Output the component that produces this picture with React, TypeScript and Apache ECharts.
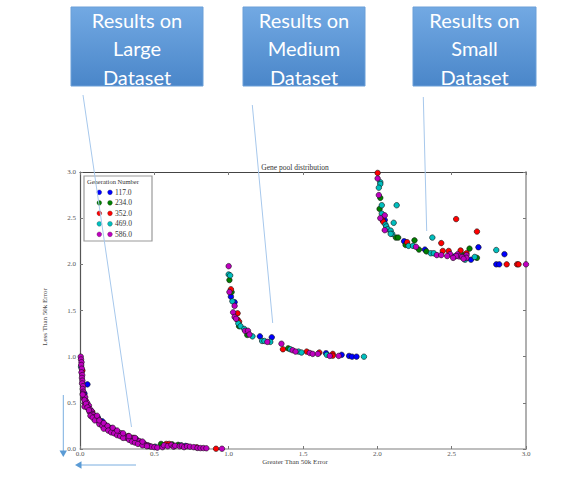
import React, { useEffect, useRef } from "react";
import * as echarts from "echarts";

// Generation labels and their marker colours (blue, green, red, cyan, magenta)
const generations = ["117.0", "234.0", "352.0", "469.0", "586.0"];
const genColors = ["#0000ff", "#007f00", "#ff0000", "#00bfbf", "#bf00bf"];

// [greater-than-50k error, less-than-50k error] per generation
const gen117: number[][] = [
  [0.05, 0.7], [0.03, 0.6], [0.12, 0.34], [0.15, 0.3], [0.21, 0.225], [0.235, 0.2], [0.375, 0.11], [0.71, 0.033],
  [1.015, 1.65], [1.04, 1.59], [1.21, 1.22], [1.29, 1.21], [1.655, 1.037], [1.76, 1.02], [1.81, 1.008], [1.83, 1.0], [1.86, 1.0],
  [2.05, 2.48], [2.18, 2.25], [2.32, 2.16], [2.52, 2.085], [2.63, 2.05], [2.68, 2.185], [2.855, 2.11], [2.8, 2.0], [2.82, 2.0],
];
const gen234: number[][] = [
  [0.27, 0.16], [0.415, 0.07], [0.545, 0.055], [0.62, 0.05], [0.66, 0.045],
  [1.005, 1.83], [1.02, 1.7], [1.07, 1.33], [1.125, 1.235], [1.4, 1.09],
  [2.02, 2.72], [2.015, 2.6], [2.125, 2.29], [2.14, 2.29], [2.25, 2.26], [2.19, 2.21], [2.28, 2.16], [2.33, 2.14], [2.58, 2.1], [2.62, 2.17], [2.67, 2.07],
];
const gen352: number[][] = [
  [0.016, 0.85], [0.083, 0.4], [0.325, 0.14], [0.36, 0.12], [0.58, 0.055], [0.6, 0.055], [0.785, 0.018], [0.915, 0.003],
  [1.015, 1.73], [1.06, 1.47], [1.06, 1.4], [1.07, 1.38], [1.365, 1.08], [1.525, 1.055], [1.61, 1.045], [1.7, 1.03], [1.7, 1.01],
  [2.002, 2.99], [2.035, 2.48], [2.04, 2.46], [2.2, 2.24], [2.43, 2.23], [2.53, 2.49], [2.67, 2.355], [2.44, 2.145], [2.48, 2.145], [2.56, 2.15], [2.6, 2.12], [2.87, 2.0], [2.94, 2.0], [2.95, 2.0],
];
const gen469: number[][] = [
  [0.007, 0.89], [0.128, 0.315], [0.29, 0.155], [0.46, 0.035], [0.505, 0.025], [0.68, 0.04],
  [1.0, 1.89], [1.01, 1.88], [1.025, 1.6], [1.065, 1.36], [1.08, 1.33], [1.105, 1.3], [1.16, 1.22], [1.225, 1.17], [1.24, 1.17], [1.28, 1.16], [1.415, 1.08], [1.47, 1.055], [1.49, 1.045], [1.66, 1.02], [1.91, 1.0],
  [2.02, 2.89], [2.02, 2.87], [2.01, 2.83], [2.03, 2.64], [2.13, 2.64], [2.03, 2.55], [2.11, 2.45], [2.055, 2.43], [2.06, 2.41], [2.07, 2.38], [2.09, 2.365], [2.1, 2.33], [2.09, 2.33], [2.21, 2.2], [2.24, 2.2], [2.37, 2.29], [2.36, 2.12], [2.38, 2.12], [2.59, 2.05], [2.655, 2.08], [2.8, 2.155],
];
const gen586: number[][] = [
  [0.005, 1.0], [0.007, 0.97], [0.01, 0.94], [0.008, 0.91], [0.012, 0.87], [0.01, 0.83], [0.015, 0.8], [0.013, 0.77], [0.016, 0.74], [0.014, 0.71],
  [0.02, 0.68], [0.018, 0.65], [0.022, 0.62], [0.02, 0.6], [0.028, 0.58], [0.025, 0.55], [0.035, 0.56], [0.04, 0.52], [0.032, 0.5], [0.048, 0.5],
  [0.045, 0.47], [0.06, 0.47], [0.055, 0.44], [0.068, 0.43], [0.065, 0.4], [0.078, 0.41], [0.08, 0.38], [0.09, 0.37], [0.095, 0.34], [0.105, 0.35],
  [0.11, 0.32], [0.12, 0.33], [0.125, 0.3], [0.14, 0.29], [0.14, 0.27], [0.155, 0.27], [0.165, 0.25], [0.17, 0.26], [0.18, 0.23], [0.19, 0.24],
  [0.2, 0.21], [0.21, 0.22], [0.22, 0.2], [0.235, 0.19], [0.24, 0.18], [0.255, 0.18], [0.26, 0.16], [0.275, 0.17], [0.28, 0.15], [0.3, 0.14],
  [0.31, 0.12], [0.32, 0.13], [0.34, 0.11], [0.35, 0.12], [0.36, 0.09], [0.38, 0.1], [0.39, 0.08], [0.4, 0.085], [0.41, 0.065], [0.43, 0.06],
  [0.44, 0.045], [0.455, 0.04], [0.47, 0.03], [0.48, 0.025], [0.5, 0.02], [0.52, 0.015],
  [0.018, 0.59], [0.03, 0.53], [0.03, 0.46], [0.04, 0.49], [0.05, 0.45], [0.06, 0.42], [0.07, 0.36], [0.085, 0.34], [0.1, 0.31], [0.115, 0.36],
  [0.13, 0.27], [0.13, 0.31], [0.15, 0.25], [0.16, 0.22], [0.16, 0.28], [0.185, 0.25], [0.19, 0.2], [0.21, 0.18], [0.22, 0.23], [0.23, 0.17],
  [0.25, 0.15], [0.25, 0.2], [0.27, 0.14], [0.29, 0.12], [0.29, 0.17], [0.33, 0.1], [0.33, 0.14], [0.35, 0.08], [0.37, 0.07], [0.37, 0.12],
  [0.39, 0.055], [0.42, 0.04], [0.42, 0.08], [0.45, 0.03],
  [0.555, 0.02], [0.565, 0.04], [0.59, 0.03], [0.615, 0.045], [0.63, 0.025], [0.64, 0.035], [0.67, 0.03], [0.685, 0.035], [0.7, 0.02], [0.72, 0.03],
  [0.74, 0.025], [0.765, 0.02], [0.79, 0.012], [0.81, 0.01], [0.83, 0.01], [0.85, 0.008], [0.955, 0.003],
  [1.0, 1.98], [1.005, 1.7], [1.04, 1.55], [1.03, 1.48], [1.04, 1.43], [1.05, 1.41], [1.11, 1.28], [1.13, 1.28], [1.14, 1.24], [1.26, 1.16],
  [1.355, 1.14], [1.43, 1.07], [1.45, 1.055], [1.545, 1.04], [1.565, 1.03], [1.6, 1.03], [1.68, 1.008], [1.74, 1.008],
  [2.002, 2.93], [2.01, 2.75], [2.05, 2.53], [2.02, 2.5], [2.05, 2.37], [2.26, 2.19], [2.4, 2.1], [2.43, 2.1], [2.49, 2.11], [2.54, 2.11],
  [2.55, 2.085], [2.53, 2.09], [2.6, 2.1], [2.6, 2.07], [2.47, 2.09], [2.51, 2.07], [2.57, 2.08], [2.58, 2.06], [3.0, 2.0],
];
const seriesData = [gen117, gen234, gen352, gen469, gen586];

// Axis ticks
const axisMin = 0;
const axisMax = 3;
const tickStep = 0.5;

// Callout boxes above the plot
const callouts = [
  { x: 71, w: 132, lines: ["Results on", "Large", "Dataset"], from: [83, 95], to: [131.5, 427] },
  { x: 243, w: 122, lines: ["Results on", "Medium", "Dataset"], from: [252.3, 105], to: [272.7, 323] },
  { x: 413, w: 123, lines: ["Results on", "Small", "Dataset"], from: [423.3, 97], to: [426.7, 231] },
];

const serif = "'Liberation Serif', 'DejaVu Serif', serif";

export default function App() {
  const ref = useRef<HTMLDivElement>(null);

  useEffect(() => {
    if (!ref.current) return;
    const chart = echarts.init(ref.current, undefined, { renderer: "svg" });

    const graphics: any[] = [];

    callouts.forEach((c) => {
      graphics.push({
        type: "rect",
        shape: { x: c.x, y: 7, width: c.w, height: 79 },
        style: {
          fill: new echarts.graphic.LinearGradient(0, 0, 0, 1, [
            { offset: 0, color: "#72a9e3" },
            { offset: 1, color: "#4a86c9" },
          ]),
          stroke: "#6a9fd8",
          lineWidth: 1,
        },
        z: 10,
      });
      c.lines.forEach((t, i) => {
        graphics.push({
          type: "text",
          x: c.x + c.w / 2,
          y: 19.5 + i * 28.5,
          style: {
            text: t,
            fill: "#ffffff",
            font: "20px Lato, 'Open Sans', sans-serif",
            textAlign: "center",
            textVerticalAlign: "middle",
          },
          z: 11,
        });
      });
      graphics.push({
        type: "line",
        shape: { x1: c.from[0], y1: c.from[1], x2: c.to[0], y2: c.to[1] },
        style: { stroke: "#a7c8ec", lineWidth: 1 },
        z: 20,
      });
    });

    // Title and axis names
    graphics.push({
      type: "text",
      x: 295,
      y: 167,
      style: { text: "Gene pool distribution", font: `7.5px ${serif}`, fill: "#333", textAlign: "center", textVerticalAlign: "middle" },
    });
    graphics.push({
      type: "text",
      x: 295,
      y: 462,
      style: { text: "Greater Than 50k Error", font: `7px ${serif}`, fill: "#444", textAlign: "center", textVerticalAlign: "middle" },
    });
    graphics.push({
      type: "text",
      x: 45,
      y: 317,
      rotation: Math.PI / 2,
      style: { text: "Less Than 50k Error", font: `7px ${serif}`, fill: "#444", textAlign: "center", textVerticalAlign: "middle" },
    });

    // Legend box
    graphics.push({
      type: "rect",
      shape: { x: 84, y: 176, width: 68, height: 65 },
      style: { fill: "#ffffff", stroke: "#9a9a9a", lineWidth: 1.2 },
      z: 5,
    });
    graphics.push({
      type: "text",
      x: 87,
      y: 181.5,
      style: { text: "Generation Number", font: `6.5px ${serif}`, fill: "#333", textVerticalAlign: "middle" },
      z: 6,
    });
    generations.forEach((g, i) => {
      const y = 192.3 + i * 10.5;
      [99.3, 110].forEach((cx) => {
        graphics.push({
          type: "circle",
          shape: { cx, cy: y, r: 2.4 },
          style: { fill: genColors[i], stroke: "#333", lineWidth: 0.3 },
          z: 6,
        });
      });
      graphics.push({
        type: "text",
        x: 115,
        y,
        style: { text: g, font: `7.5px ${serif}`, fill: "#333", textVerticalAlign: "middle" },
        z: 6,
      });
    });

    // Arrows at the lower left
    graphics.push({ type: "line", shape: { x1: 63.3, y1: 395, x2: 63.3, y2: 452 }, style: { stroke: "#7aaee0", lineWidth: 1 }, z: 20 });
    graphics.push({ type: "polygon", shape: { points: [[59.5, 450.5], [67, 450.5], [63.3, 457]] }, style: { fill: "#5b9bd5" }, z: 20 });
    graphics.push({ type: "line", shape: { x1: 136, y1: 465, x2: 80, y2: 465 }, style: { stroke: "#7aaee0", lineWidth: 1 }, z: 20 });
    graphics.push({ type: "polygon", shape: { points: [[81.5, 461.3], [81.5, 468.7], [75, 465]] }, style: { fill: "#5b9bd5" }, z: 20 });

    const tickLabel = { fontFamily: serif, fontSize: 7, color: "#555" };
    const fmt = (v: number) => v.toFixed(1);
    const tick = { show: true, inside: true, length: 3, lineStyle: { color: "#777" } };

    const option: any = {
      animation: false,
      backgroundColor: "#ffffff",
      grid: { left: 80, right: 44, top: 172, bottom: 31 },
      xAxis: [
        {
          type: "value", min: axisMin, max: axisMax, interval: tickStep, position: "bottom",
          axisLine: { show: true, onZero: false, lineStyle: { color: "#a8a8a8", width: 1.5 } },
          axisTick: tick,
          axisLabel: { ...tickLabel, margin: 1.5, formatter: fmt },
          splitLine: { show: false },
        },
        {
          type: "value", min: axisMin, max: axisMax, interval: tickStep, position: "top",
          axisLine: { show: true, onZero: false, lineStyle: { color: "#444", width: 1.2 } },
          axisTick: tick,
          axisLabel: { show: false },
          splitLine: { show: false },
        },
      ],
      yAxis: [
        {
          type: "value", min: axisMin, max: axisMax, interval: tickStep, position: "left",
          axisLine: { show: true, onZero: false, lineStyle: { color: "#555", width: 1.2 } },
          axisTick: tick,
          axisLabel: { ...tickLabel, margin: 4, formatter: fmt },
          splitLine: { show: false },
        },
        {
          type: "value", min: axisMin, max: axisMax, interval: tickStep, position: "right",
          axisLine: { show: true, onZero: false, lineStyle: { color: "#a8a8a8", width: 1.8 } },
          axisTick: tick,
          axisLabel: { show: false },
          splitLine: { show: false },
        },
      ],
      series: seriesData.map((d, i) => ({
        type: "scatter",
        name: generations[i],
        data: d,
        symbolSize: 5.5,
        itemStyle: { color: genColors[i], borderColor: "#111", borderWidth: 0.6, opacity: 1 },
        z: 2 + i,
      })),
      graphic: { elements: graphics },
    };

    chart.setOption(option);
    return () => chart.dispose();
  }, []);

  return <div ref={ref} style={{ position: "fixed", left: 0, top: 0, width: 570, height: 480 }} />;
}
